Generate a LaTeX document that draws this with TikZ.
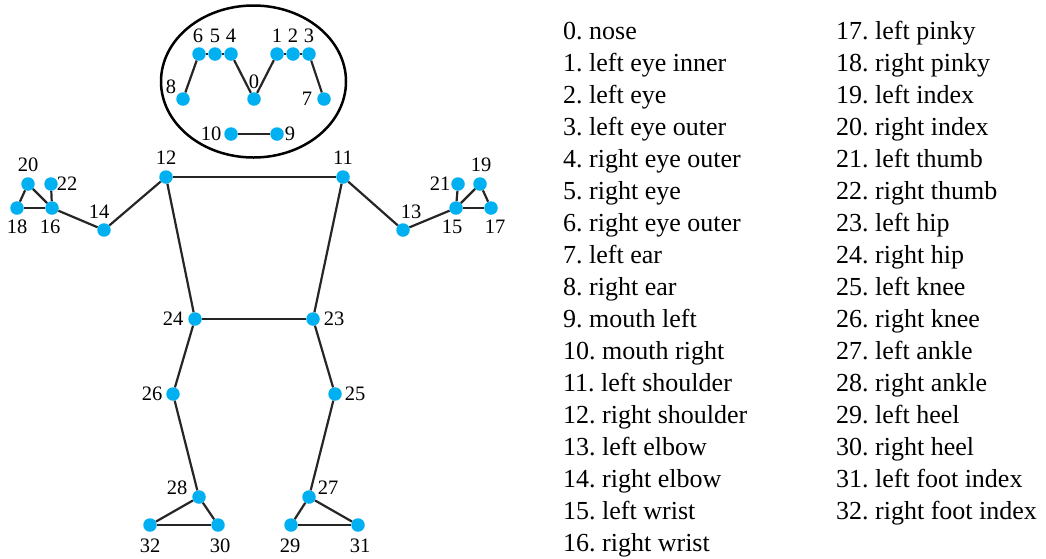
\documentclass[tikz,border=0pt]{standalone}
\usepackage{fontspec}
\setmainfont{Liberation Serif}
\newfontfamily\figserif{Liberation Serif}
\begin{document}
\begin{tikzpicture}[x=1pt,y=-1pt,
  joint/.style={circle,fill=jointblue,draw=none,minimum size=13.5pt,inner sep=0pt},
  bone/.style={draw=black!85,line width=2.2pt},
  lbl/.style={inner sep=0pt,font=\figserif\fontsize{20.5}{24}\selectfont},
  key/.style={anchor=base west,inner sep=0pt,font=\figserif\fontsize{26}{30}\selectfont}]
\definecolor{jointblue}{HTML}{00B0F0}
\useasboundingbox (0,0) rectangle (1046,558);

% head outline
\draw[line width=2.5pt] (253.5,81.5) ellipse [x radius=92.5, y radius=76];

% joints
\foreach \i/\x/\y in {0/254/99, 1/277/54, 2/293/54, 3/309/54, 4/231/54, 5/215/54,
  6/199/54, 7/324/99, 8/183/99, 9/277/134, 10/231/134, 11/343/177, 12/166/177,
  13/403/230, 14/104/230, 15/456/208, 16/52/208, 17/491/208, 18/17/208,
  19/480/184, 20/28/184, 21/458/184, 22/51/184, 23/313/319, 24/195/319,
  25/335/394, 26/173/394, 27/309/497, 28/199/497, 29/291/525, 30/218/525,
  31/358/525, 32/150/525}
  \node[joint] (n\i) at (\x,\y) {};

% skeleton
\foreach \a/\b in {8/6, 6/5, 5/4, 4/0, 0/1, 1/2, 2/3, 3/7, 10/9,
  12/11, 12/24, 11/23, 24/23, 12/14, 11/13,
  14/16, 16/22, 16/20, 16/18, 20/18,
  13/15, 15/21, 15/19, 15/17, 19/17,
  24/26, 26/28, 28/32, 28/30, 32/30,
  23/25, 25/27, 27/29, 27/31, 29/31}
  \draw[bone] (n\a) -- (n\b);

% joint numbers
\foreach \i/\x/\y in {0/254/82, 1/277/36, 2/293/36, 3/309/36, 4/231/36, 5/215/36,
  6/198/36, 7/307/99, 8/171/87, 9/290/134, 10/211/134, 11/343/158, 12/166/158,
  13/411/212, 14/99/212, 15/452/227, 16/50/227, 17/495/227, 18/17/227,
  19/481/165, 20/28/165, 21/440/184, 22/67/184, 23/334/319, 24/173/319,
  25/355/394, 26/152/394, 27/328/488, 28/177/488, 29/290/546, 30/220/546,
  31/360/546, 32/150/546}
  \node[lbl] (t\i) at (\x,\y) {\i};

% legend
\foreach \i/\name in {0/nose, 1/left eye inner, 2/left eye, 3/left eye outer,
  4/right eye outer, 5/right eye, 6/right eye outer, 7/left ear, 8/right ear,
  9/mouth left, 10/mouth right, 11/left shoulder, 12/right shoulder,
  13/left elbow, 14/right elbow, 15/left wrist, 16/right wrist}
  \node[key] (k\i) at (563,39+32*\i) {\i.\ \name};
\foreach \i/\name in {17/left pinky, 18/right pinky, 19/left index,
  20/right index, 21/left thumb, 22/right thumb, 23/left hip, 24/right hip,
  25/left knee, 26/right knee, 27/left ankle, 28/right ankle, 29/left heel,
  30/right heel, 31/left foot index, 32/right foot index}
  \node[key] (k\i) at (836,39+32*\i-544) {\i.\ \name};
\end{tikzpicture}
\end{document}
